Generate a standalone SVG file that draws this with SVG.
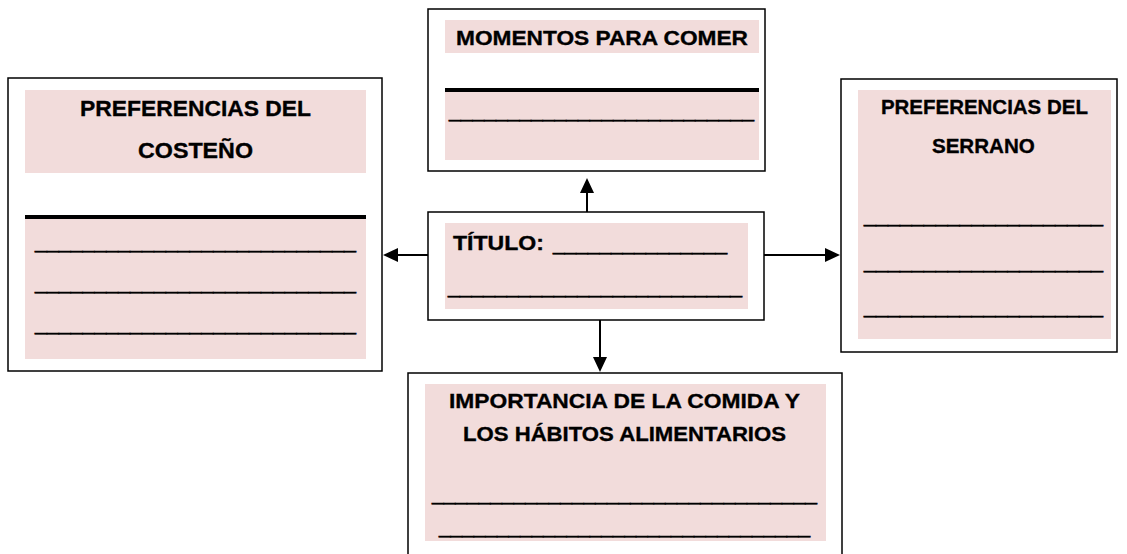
<svg xmlns="http://www.w3.org/2000/svg" width="1127" height="554" viewBox="0 0 1127 554">
<style>
.box{fill:#fff;stroke:#000;stroke-width:1.5}
.pink{fill:#F2DCDB}
.bar{fill:#000}
.t{font-family:"Liberation Sans",Arial,sans-serif;font-weight:bold;font-size:21px;fill:#000;stroke:#000;stroke-width:0.35}
.tl{font-size:22px}
.u{font-family:"Liberation Sans",Arial,sans-serif;font-size:21px;fill:#000;stroke:#000;stroke-width:0.6}
.c{text-anchor:middle}
.conn{stroke:#000;stroke-width:2;fill:none}
</style>
<defs>
<marker id="ah" viewBox="0 0 15 14" refX="5" refY="7" markerWidth="15" markerHeight="14" markerUnits="userSpaceOnUse" orient="auto">
<path d="M0,0 L15,7 L0,14 z" fill="#000"/>
</marker>
</defs>
<g id="connectors">
<line class="conn" x1="428" y1="255" x2="393" y2="255" marker-end="url(#ah)"/>
<line class="conn" x1="764" y1="255" x2="830" y2="255" marker-end="url(#ah)"/>
<line class="conn" x1="587" y1="212" x2="587" y2="188" marker-end="url(#ah)"/>
<line class="conn" x1="600" y1="320" x2="600" y2="362" marker-end="url(#ah)"/>
</g>
<g id="costeno">
<rect class="box" x="8" y="78" width="374" height="293"/>
<rect class="pink" x="25" y="90" width="341" height="83"/>
<rect class="bar" x="25" y="215" width="341" height="4"/>
<rect class="pink" x="25" y="219" width="341" height="140"/>
<text class="t tl c" x="195.5" y="115.5" textLength="231" lengthAdjust="spacingAndGlyphs">PREFERENCIAS DEL</text>
<text class="t tl c" x="195.5" y="157.5" textLength="115" lengthAdjust="spacingAndGlyphs">COSTEÑO</text>
<text class="u" x="35" y="248" textLength="321" lengthAdjust="spacingAndGlyphs">___________________________</text>
<text class="u" x="35" y="289" textLength="321" lengthAdjust="spacingAndGlyphs">___________________________</text>
<text class="u" x="35" y="330" textLength="321" lengthAdjust="spacingAndGlyphs">___________________________</text>
</g>
<g id="momentos">
<rect class="box" x="428" y="9" width="337" height="162"/>
<rect class="pink" x="445" y="20" width="314" height="33"/>
<rect class="bar" x="445" y="88" width="314" height="4"/>
<rect class="pink" x="445" y="92" width="314" height="68"/>
<text class="t" x="456" y="45" textLength="292" lengthAdjust="spacingAndGlyphs">MOMENTOS PARA COMER</text>
<text class="u" x="449" y="117" textLength="305" lengthAdjust="spacingAndGlyphs">__________________________</text>
</g>
<g id="titulo">
<rect class="box" x="428" y="212" width="336" height="108"/>
<rect class="pink" x="445" y="223" width="303" height="86"/>
<text class="t" x="453" y="249.5" textLength="91" lengthAdjust="spacingAndGlyphs">TÍTULO:</text>
<text class="u" x="553" y="249.5" textLength="174" lengthAdjust="spacingAndGlyphs">_______________</text>
<text class="u" x="448" y="293" textLength="294" lengthAdjust="spacingAndGlyphs">_________________________</text>
</g>
<g id="serrano">
<rect class="box" x="841" y="79" width="276" height="273"/>
<rect class="pink" x="858" y="90" width="253" height="249"/>
<text class="t c" x="984.4" y="114.3" textLength="207" lengthAdjust="spacingAndGlyphs">PREFERENCIAS DEL</text>
<text class="t c" x="983.4" y="153" textLength="103" lengthAdjust="spacingAndGlyphs">SERRANO</text>
<text class="u" x="864" y="222" textLength="239" lengthAdjust="spacingAndGlyphs">____________________</text>
<text class="u" x="864" y="268" textLength="239" lengthAdjust="spacingAndGlyphs">____________________</text>
<text class="u" x="864" y="313" textLength="239" lengthAdjust="spacingAndGlyphs">____________________</text>
</g>
<g id="importancia">
<rect class="box" x="408" y="373" width="434" height="200"/>
<rect class="pink" x="425" y="384" width="401" height="157"/>
<text class="t c" x="624.5" y="408" textLength="351" lengthAdjust="spacingAndGlyphs">IMPORTANCIA DE LA COMIDA Y</text>
<text class="t c" x="624.5" y="441" textLength="323" lengthAdjust="spacingAndGlyphs">LOS HÁBITOS ALIMENTARIOS</text>
<text class="u" x="432" y="500" textLength="385" lengthAdjust="spacingAndGlyphs">_________________________________</text>
<text class="u" x="439" y="533" textLength="371" lengthAdjust="spacingAndGlyphs">________________________________</text>
</g>
</svg>
